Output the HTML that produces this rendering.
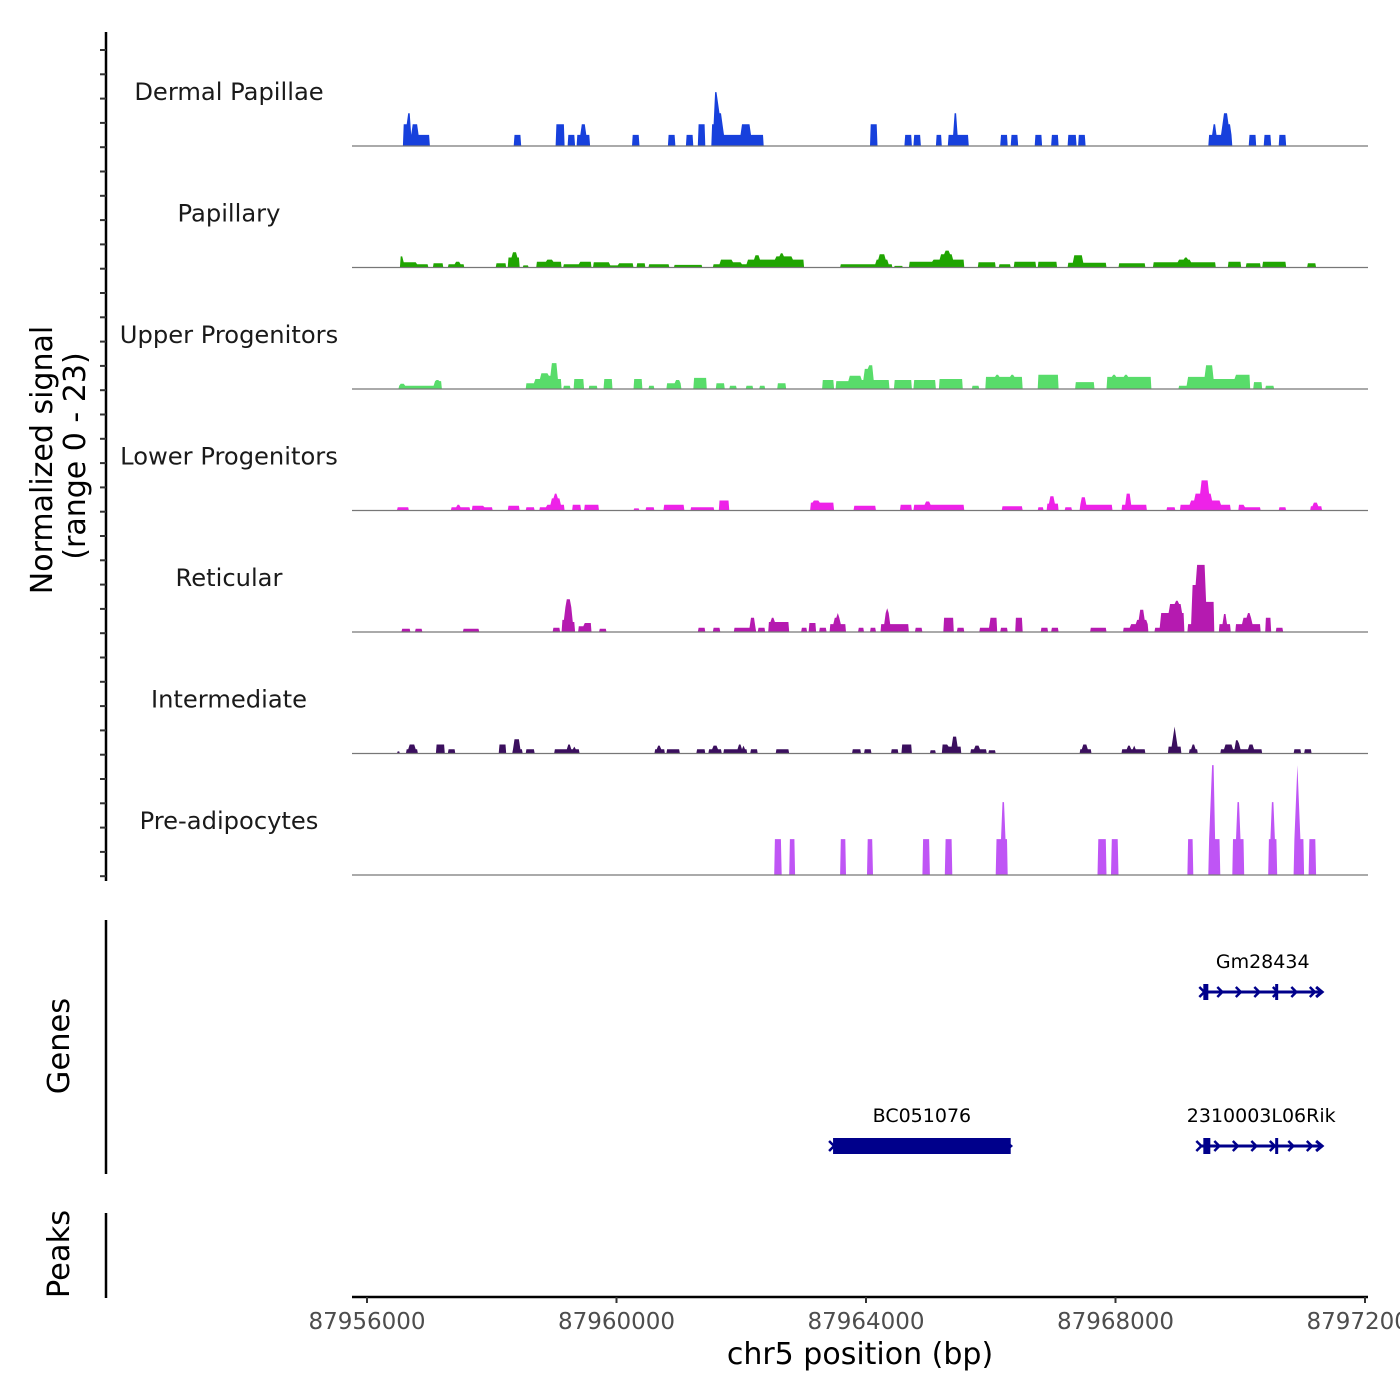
<!DOCTYPE html>
<html><head><meta charset="utf-8"><style>
html,body{margin:0;padding:0;background:#fff}
svg{display:block}
text{font-family:"DejaVu Sans","Liberation Sans",sans-serif}
</style></head><body>
<svg id="chart" width="1400" height="1400" viewBox="0 0 1400 1400" xmlns="http://www.w3.org/2000/svg">
<g id="tracks"></g>
<g id="leftaxis"></g>
<g id="genes"></g>
<g id="xaxis"></g>
<text transform="translate(52,460) rotate(-90)" text-anchor="middle" font-size="30" fill="#000">Normalized signal</text>
<text transform="translate(85,456) rotate(-90)" text-anchor="middle" font-size="30" fill="#000">(range 0 - 23)</text>
<text transform="translate(69,1046) rotate(-90)" text-anchor="middle" font-size="30.5" fill="#000">Genes</text>
<text transform="translate(69,1254) rotate(-90)" text-anchor="middle" font-size="30.5" fill="#000">Peaks</text>
<text x="860" y="1364" text-anchor="middle" font-size="30" fill="#000">chr5 position (bp)</text>
</svg>
<script>
const chromOffset = 87956000;
const yMax = 23;
const trackNames = ["Dermal Papillae","Papillary","Upper Progenitors","Lower Progenitors","Reticular","Intermediate","Pre-adipocytes"];
const trackColors = ["#1740dc","#20a502","#58dc6a","#ee22e8","#b51ab0","#3b0f5e","#bf55f5"];
// blocks: [start offset bp, end offset bp, signal]
const dermalPapillae = [[592,656,4.1],[656,688,6.2],[688,720,2.1],[736,816,4.1],[816,864,2.1],[880,992,2.1],[2352,2464,2.1],[3024,3152,4.1],[3216,3328,2.1],[3376,3568,2.1],[3440,3504,4.1],[4256,4352,2.1],[4832,4928,2.1],[5120,5232,2.1],[5312,5424,4.1],[5520,5712,4.1],[5584,5600,10.2],[5600,5632,8.2],[5632,5680,6.2],[5712,5984,2.1],[6016,6128,4.1],[6128,6224,2.1],[6240,6352,2.1],[8064,8176,4.1],[8624,8736,2.1],[8768,8864,2.1],[9120,9216,2.1],[9328,9536,2.1],[9408,9440,6.2],[9568,9648,2.1],[10160,10272,2.1],[10320,10432,2.1],[10720,10816,2.1],[10976,11088,2.1],[11248,11360,2.1],[11408,11520,2.1],[13504,13856,2.1],[13568,13600,4.1],[13712,13744,4.1],[13744,13792,6.2],[13792,13840,4.1],[14144,14256,2.1],[14384,14496,2.1],[14624,14736,2.1]];
const papillary = [[528,560,2.1],[560,784,1.0],[784,976,0.6],[1072,1216,0.8],[1296,1552,0.6],[1424,1472,1.1],[2080,2224,0.8],[2272,2448,1.9],[2336,2400,2.9],[2496,2592,0.4],[2720,3120,1.1],[2880,2976,1.5],[3152,3392,0.6],[3424,3584,1.1],[3632,3888,1.0],[3904,4032,0.4],[4048,4272,0.8],[4320,4448,0.8],[4512,4848,0.6],[4928,5360,0.5],[5552,5648,0.6],[5680,5840,1.5],[5856,6000,1.0],[6000,6112,0.6],[6112,6400,1.5],[6224,6288,2.3],[6416,7008,1.5],[6560,6800,2.1],[6640,6672,2.7],[7600,8080,0.6],[7888,8416,0.6],[8160,8336,1.5],[8224,8288,2.5],[8448,8576,0.3],[8688,9088,1.1],[9088,9568,1.5],[9200,9376,2.5],[9280,9328,3.2],[9808,10080,1.0],[10128,10320,0.6],[10368,10720,1.1],[10768,11056,1.1],[11248,11856,0.9],[11344,11472,2.3],[12048,12480,0.8],[12608,13600,1.0],[13008,13184,1.5],[13120,13152,1.9],[13808,14016,1.1],[14096,14320,0.8],[14368,14720,1.1],[15088,15200,0.8]];
const upperProgenitors = [[512,1184,0.6],[528,592,1.0],[1088,1184,1.5],[1120,1152,1.7],[2544,2672,1.1],[2688,2784,1.9],[2784,2896,3.0],[2896,2960,2.5],[2960,3040,4.9],[3040,3120,1.9],[3152,3248,0.6],[3328,3472,1.9],[3568,3680,0.6],[3808,3920,1.9],[4288,4400,1.9],[4512,4608,0.6],[4800,5040,1.1],[4960,5008,1.7],[5248,5440,2.1],[5600,5728,1.1],[5808,5920,0.6],[6080,6192,0.6],[6288,6368,0.6],[6592,6720,1.1],[7312,7472,1.7],[7520,7712,1.5],[7728,7920,2.5],[7968,8080,3.8],[7888,8368,1.7],[8048,8096,4.5],[8448,8736,1.7],[8768,9120,1.7],[9168,9536,1.9],[9696,9808,0.6],[9920,10496,2.3],[10080,10112,2.7],[10320,10352,2.7],[10768,11088,2.7],[11360,11648,1.3],[11856,12576,2.3],[11968,12000,2.7],[12160,12192,2.7],[13008,13168,0.6],[13168,13456,2.3],[13456,13552,4.5],[13552,13920,1.9],[13920,14160,2.7],[14208,14336,1.3],[14416,14528,0.6]];
const lowerProgenitors = [[496,672,0.6],[1360,1648,0.6],[1440,1472,1.1],[1696,1872,0.9],[1888,2000,0.6],[2272,2432,0.9],[2560,2672,0.6],[2768,2864,0.6],[2896,3152,1.1],[2960,3088,2.3],[3008,3040,3.2],[3296,3424,1.1],[3488,3712,1.1],[4272,4368,0.4],[4480,4608,0.6],[4752,5072,1.1],[5200,5552,0.6],[5648,5808,1.9],[7104,7472,1.5],[7168,7232,1.9],[7808,8160,0.9],[8560,8736,1.1],[8768,9568,1.1],[8960,9008,1.7],[10176,10496,0.8],[10752,10848,0.6],[10896,11072,1.3],[10944,11008,2.7],[11200,11296,0.6],[11424,11936,1.1],[11456,11520,2.5],[12112,12496,1.1],[12176,12240,3.2],[12832,12944,0.6],[13040,13840,1.1],[13200,13680,1.9],[13280,13536,3.2],[13376,13488,5.7],[13968,14320,0.6],[13968,14048,1.1],[14624,14720,0.6],[15136,15296,0.8],[15168,15232,1.5]];
const reticular = [[560,688,0.6],[768,880,0.6],[1552,1792,0.6],[2976,3088,0.8],[3120,3168,2.3],[3168,3200,4.7],[3200,3248,6.2],[3248,3280,4.7],[3280,3328,1.9],[3392,3600,1.1],[3488,3600,1.7],[3728,3824,0.6],[5312,5424,0.8],[5552,5648,0.8],[5888,6240,0.8],[6160,6208,2.7],[6272,6368,0.8],[6432,6768,1.9],[6480,6512,2.7],[6960,7056,0.8],[7088,7200,1.7],[7248,7360,0.8],[7424,7680,1.5],[7488,7584,2.7],[7536,7552,3.6],[7872,7968,0.8],[8064,8160,0.8],[8240,8688,1.5],[8304,8368,3.6],[8336,8352,4.5],[8800,8896,0.8],[9248,9408,2.7],[9456,9568,0.8],[9824,9968,0.8],[10000,10096,2.7],[10160,10272,0.8],[10400,10496,2.7],[10816,10912,0.8],[10976,11072,0.8],[11600,11840,0.8],[12128,12528,0.8],[12256,12528,1.5],[12336,12496,2.3],[12400,12448,4.2],[12624,13104,0.8],[12736,13104,3.6],[12864,13056,5.3],[12976,13008,5.9],[13152,13584,1.5],[13232,13296,8.9],[13296,13440,12.7],[13440,13584,5.7],[13664,13840,1.5],[13728,13776,3.4],[13936,14320,1.5],[14048,14176,2.7],[14112,14144,3.6],[14400,14496,2.7],[14576,14672,0.8]];
const intermediate = [[496,528,0.4],[640,800,0.8],[688,752,1.7],[1104,1248,1.7],[1296,1408,0.8],[2128,2224,1.7],[2336,2480,0.8],[2368,2432,2.7],[2544,2672,0.8],[3008,3408,0.8],[3232,3248,1.7],[3312,3328,1.3],[4608,4768,0.8],[4672,4704,1.5],[4800,5008,0.8],[5296,5408,0.8],[5488,5680,0.8],[5552,5600,1.5],[5728,6080,0.8],[5968,5984,1.7],[6032,6048,1.5],[6144,6256,0.8],[6560,6752,0.8],[7792,7904,0.8],[7968,8080,0.8],[8400,8512,0.8],[8576,8720,1.7],[9024,9120,0.6],[9216,9312,1.7],[9312,9520,1.3],[9392,9440,3.2],[9680,9920,0.8],[9760,9808,1.5],[9968,10080,0.6],[11424,11600,0.8],[11488,11536,1.7],[12096,12464,0.8],[12208,12224,1.5],[12288,12304,1.5],[12848,13040,1.3],[12912,12976,3.2],[12944,12960,5.1],[13184,13312,0.8],[13232,13264,1.7],[13680,14080,0.8],[13760,13856,1.7],[13920,13984,1.9],[13936,13968,2.5],[14096,14336,0.8],[14144,14192,1.7],[14864,14960,0.8],[15024,15136,0.8]];
const preAdipocytes = [[6544,6640,6.8],[6768,6864,6.8],[7600,7680,6.8],[8016,8096,6.8],[8912,9008,6.8],[9280,9376,6.8],[10096,10272,6.8],[10176,10208,13.8],[11712,11840,6.8],[11936,12032,6.8],[13152,13248,6.8],[13488,13664,6.8],[13520,13584,13.8],[13552,13568,20.8],[13888,14064,6.8],[13952,13984,13.8],[14448,14592,6.8],[14496,14528,13.8],[14864,15008,6.8],[14880,14944,13.8],[14912,14928,20.8],[15104,15200,6.8]];
const trackData = [dermalPapillae,papillary,upperProgenitors,lowerProgenitors,reticular,intermediate,preAdipocytes];
const xTicks = [0,4000,8000,12000,16000];
const xTickLabels = ["87956000","87960000","87964000","87968000","87972000"];
const geneNames = ["Gm28434","BC051076","2310003L06Rik"];
const geneStarts = [13408,7472,13360];
const geneEnds = [15312,10320,15312];
const geneRows = [0,1,1];
const geneExons = [[[13408,13488],[14560,14608]],[[7472,10320]],[[13408,13520],[14560,14608]]];

const NS="http://www.w3.org/2000/svg";
const X0=352,X1=1368;
function xs(off){return 367+off*249.5/4000;}
const trackH=121.5, firstBase=146;
function base(i){return firstBase+i*trackH;}
function ys(v,i){return base(i)-v*trackH/yMax;}
function mk(tag,attrs,parent){const e=document.createElementNS(NS,tag);for(const k in attrs)e.setAttribute(k,attrs[k]);parent.appendChild(e);return e;}

const tracksG=document.getElementById('tracks');
const binW=24, offMin=-240, offMax=16056;
trackData.forEach((blocks,i)=>{
  const g=mk('g',{},tracksG);
  
  
  const nb=Math.ceil((offMax-offMin)/binW);
  const vals=new Array(nb).fill(0);
  blocks.forEach(b=>{
    const s=Math.floor((b[0]-offMin)/binW), e=Math.ceil((b[1]-offMin)/binW)-1;
    for(let k=Math.max(0,s);k<=Math.min(nb-1,e);k++) if(b[2]>vals[k]) vals[k]=b[2];
  });
  let d='';let k=0;
  while(k<nb){
    if(vals[k]>0){
      let st=k; d+='M'+xs(offMin+st*binW).toFixed(1)+','+base(i);
      while(k<nb&&vals[k]>0){d+='L'+xs(offMin+(k+0.5)*binW).toFixed(1)+','+ys(vals[k],i).toFixed(1);k++;}
      d+='L'+xs(offMin+k*binW).toFixed(1)+','+base(i)+'Z';
    } else k++;
  }
  const p=mk('path',{d:d,fill:trackColors[i]},g);
  
  
  const bl=mk('line',{x1:X0,x2:X1,y1:base(i),y2:base(i),stroke:'#777','stroke-width':1.2},g);
  
  
  const t=mk('text',{x:229,y:base(i)-46,'text-anchor':'middle','font-size':24.2,fill:'#1a1a1a'},g);
  t.textContent=trackNames[i];
  
  
});

const la=document.getElementById('leftaxis');
mk('line',{x1:106,x2:106,y1:32,y2:881,stroke:'#000','stroke-width':2.5},la);
for(let k=0;k<35;k++){const y=50+k*24.3;const tk=mk('line',{x1:100,x2:106,y1:y,y2:y,stroke:'#333','stroke-width':2},la);
  
  }
const ga=mk('line',{x1:106,x2:106,y1:920,y2:1174,stroke:'#000','stroke-width':2.5},la);


const pa=mk('line',{x1:106,x2:106,y1:1213,y2:1298,stroke:'#000','stroke-width':2.5},la);



const xa=document.getElementById('xaxis');
mk('line',{x1:X0,x2:X1,y1:1297,y2:1297,stroke:'#000','stroke-width':2.5},xa);
xTicks.forEach((t,i)=>{
  const x=xs(t);
  const tk=mk('line',{x1:x,x2:x,y1:1297,y2:1303,stroke:'#333','stroke-width':2},xa);
  
  
  const tl=mk('text',{x:x,y:1329,'text-anchor':'middle','font-size':23,fill:'#4d4d4d'},xa);
  tl.textContent=xTickLabels[i];
  
  
});

const gg=document.getElementById('genes');
const rowY=[992,1146];
geneNames.forEach((n,i)=>{
  const g=mk('g',{},gg);
  
  
  const y=rowY[geneRows[i]], x1=xs(geneStarts[i]), x2=xs(geneEnds[i]);
  mk('line',{x1:x1,x2:x2,y1:y,y2:y,stroke:'#00008b','stroke-width':3},g);
  for(let ax=x1+18;ax<x2-4;ax+=18.5){
    mk('path',{d:`M${ax-4},${y-5}L${ax+1},${y}L${ax-4},${y+5}`,fill:'none',stroke:'#00008b','stroke-width':2.5},g);
  }
  mk('path',{d:`M${x2-6},${y-5}L${x2},${y}L${x2-6},${y+5}`,fill:'none',stroke:'#00008b','stroke-width':3},g);
  mk('path',{d:`M${x1-4},${y-5}L${x1+1},${y}L${x1-4},${y+5}`,fill:'none',stroke:'#00008b','stroke-width':2.5},g);
  geneExons[i].forEach(ex=>{
    const a=xs(ex[0]),b=xs(ex[1]);
    const r=mk('rect',{x:a,y:y-8,width:Math.max(3,b-a),height:16,fill:'#00008b'},g);
    
    
  });
  const t=mk('text',{x:(x1+x2)/2,y:y-24,'text-anchor':'middle','font-size':19,fill:'#000'},g);
  t.textContent=n;
  
  
});
</script>
</body></html>
